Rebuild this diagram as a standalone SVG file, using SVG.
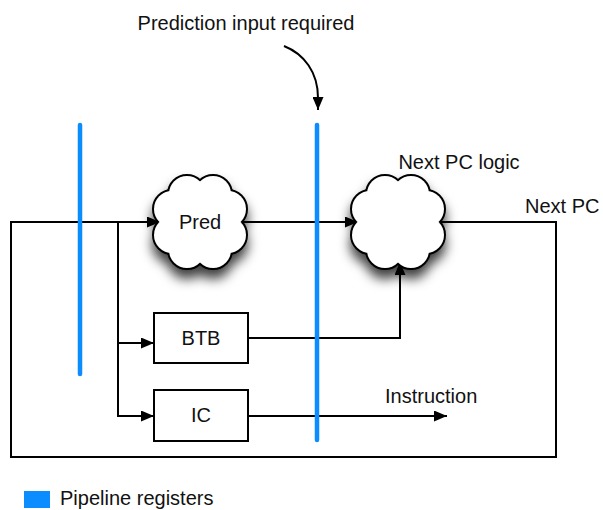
<svg xmlns="http://www.w3.org/2000/svg" width="603" height="510" viewBox="0 0 603 510">
  <style>
    text { font-family: "Liberation Sans", Arial, Helvetica, sans-serif; font-size: 20px; fill: #111; }
    .wire { fill: none; stroke: #000; stroke-width: 2; }
    .box { fill: #fff; stroke: #000; stroke-width: 2; }
    .reg { stroke: #0b8dff; stroke-width: 4.5; stroke-linecap: round; }
    .lobe-edge { fill: #000; stroke: #000; stroke-width: 4; }
    .lobe-fill { fill: #fff; stroke: none; }
  </style>
  <defs>
    <marker id="arrow" markerUnits="userSpaceOnUse" markerWidth="13" markerHeight="11" refX="13" refY="5.5" orient="auto">
      <path d="M0,0 L13,5.5 L0,11 z" fill="#000"/>
    </marker>
    <filter id="shadow" x="-40%" y="-40%" width="180%" height="200%">
      <feGaussianBlur in="SourceAlpha" stdDeviation="6"/>
      <feOffset dy="9" result="b"/>
      <feFlood flood-color="#000" flood-opacity="0.75"/>
      <feComposite in2="b" operator="in"/>
      <feMerge>
        <feMergeNode/>
        <feMergeNode in="SourceGraphic"/>
      </feMerge>
    </filter>
    <!-- cloud made of overlapping lobes; outline comes from the stroked copy underneath -->
    <g id="lobes">
      <circle cx="0" cy="0" r="32"/>
      <circle cx="28" cy="13" r="18"/>
      <circle cx="13" cy="28" r="18"/>
      <circle cx="-13" cy="28" r="18"/>
      <circle cx="-28" cy="13" r="18"/>
      <circle cx="-28" cy="-13" r="18"/>
      <circle cx="-13" cy="-28" r="18"/>
      <circle cx="13" cy="-28" r="18"/>
      <circle cx="28" cy="-13" r="18"/>
    </g>
  </defs>

  <rect width="603" height="510" fill="#fff"/>

  <!-- connectors -->
  <g id="connectors">
    <path class="wire" d="M438,222 H556 V457 H11 V222 H160" marker-end="url(#arrow)"/>
    <path class="wire" d="M118,222 V416 H154" marker-end="url(#arrow)"/>
    <path class="wire" d="M118,343 H154" marker-end="url(#arrow)"/>
    <path class="wire" d="M240,222 H358" marker-end="url(#arrow)"/>
    <path class="wire" d="M248,338 H400 V262" marker-end="url(#arrow)"/>
    <path class="wire" d="M248,416 H447" marker-end="url(#arrow)"/>
    <path class="wire" d="M284,46 C304,54 318,72 318,98 V110" marker-end="url(#arrow)"/>
  </g>

  <!-- pipeline registers -->
  <g id="registers">
    <line class="reg" x1="80" y1="125" x2="80" y2="374"/>
    <line class="reg" x1="317" y1="125" x2="317" y2="440"/>
  </g>

  <g id="pred">
    <use class="lobe-edge" href="#lobes" filter="url(#shadow)" transform="translate(200,222)"/>
    <use class="lobe-fill" href="#lobes" transform="translate(200,222)"/>
    <text x="200" y="229" text-anchor="middle">Pred</text>
  </g>

  <g id="next-pc-logic">
    <use class="lobe-edge" href="#lobes" filter="url(#shadow)" transform="translate(398,222)"/>
    <use class="lobe-fill" href="#lobes" transform="translate(398,222)"/>
    <text x="459" y="169" text-anchor="middle">Next PC logic</text>
  </g>

  <g id="btb">
    <rect class="box" x="154" y="313" width="94" height="50"/>
    <text x="201" y="345" text-anchor="middle">BTB</text>
  </g>

  <g id="ic">
    <rect class="box" x="154" y="390" width="94" height="51"/>
    <text x="201" y="422" text-anchor="middle">IC</text>
  </g>

  <g id="labels">
    <text x="246" y="30" text-anchor="middle">Prediction input required</text>
    <text x="525" y="213">Next PC</text>
    <text x="385" y="403">Instruction</text>
  </g>

  <g id="legend">
    <rect x="24" y="491" width="26" height="17" fill="#0b8dff"/>
    <text x="60" y="505">Pipeline registers</text>
  </g>
</svg>
